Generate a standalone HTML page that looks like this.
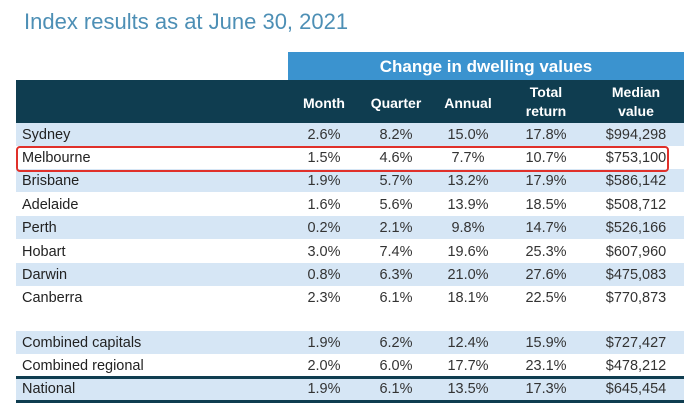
<!DOCTYPE html>
<html><head><meta charset="utf-8"><style>
body{margin:0;width:695px;height:415px;background:#fff;position:relative;overflow:hidden;font-family:"Liberation Sans",sans-serif;}
.t{position:absolute;left:24px;top:9px;font-size:22px;color:#4d8fb5;white-space:nowrap;}
.band{position:absolute;left:288px;top:52px;width:396px;height:28px;background:#3b93cf;color:#fff;font-weight:bold;font-size:17px;text-align:center;line-height:30px;}
.hd{position:absolute;left:16px;top:80px;width:668px;height:43px;background:#0f3d50;}
.r{position:absolute;left:16px;width:668px;height:23px;font-size:14.5px;color:#333;line-height:24px;}
.l{background:#d6e6f5;}
.c{position:absolute;text-align:center;width:90px;}
.n{position:absolute;left:6px;color:#222;}
.h{position:absolute;color:#fff;font-weight:bold;font-size:14px;text-align:center;width:90px;line-height:19px;}
.box{position:absolute;left:16px;top:146px;width:649px;height:22px;border:2px solid #e0302a;border-radius:4px;}
.bar{position:absolute;left:16px;width:668px;height:3px;background:#0f3d50;}
</style></head><body>
<div class="t">Index results as at June 30, 2021</div>
<div class="band">Change in dwelling values</div>
<div class="hd">
<div class="h" style="left:263px;top:14px">Month</div>
<div class="h" style="left:335px;top:14px">Quarter</div>
<div class="h" style="left:407px;top:14px">Annual</div>
<div class="h" style="left:485px;top:3px">Total<br>return</div>
<div class="h" style="left:575px;top:3px">Median<br>value</div>
</div>
<div class="r l" style="top:123px"><span class="n">Sydney</span><span class="c" style="left:263px">2.6%</span><span class="c" style="left:335px">8.2%</span><span class="c" style="left:407px">15.0%</span><span class="c" style="left:485px">17.8%</span><span class="c" style="left:575px">$994,298</span></div>
<div class="r" style="top:146px"><span class="n">Melbourne</span><span class="c" style="left:263px">1.5%</span><span class="c" style="left:335px">4.6%</span><span class="c" style="left:407px">7.7%</span><span class="c" style="left:485px">10.7%</span><span class="c" style="left:575px">$753,100</span></div>
<div class="r l" style="top:169px"><span class="n">Brisbane</span><span class="c" style="left:263px">1.9%</span><span class="c" style="left:335px">5.7%</span><span class="c" style="left:407px">13.2%</span><span class="c" style="left:485px">17.9%</span><span class="c" style="left:575px">$586,142</span></div>
<div class="r" style="top:193px"><span class="n">Adelaide</span><span class="c" style="left:263px">1.6%</span><span class="c" style="left:335px">5.6%</span><span class="c" style="left:407px">13.9%</span><span class="c" style="left:485px">18.5%</span><span class="c" style="left:575px">$508,712</span></div>
<div class="r l" style="top:216px"><span class="n">Perth</span><span class="c" style="left:263px">0.2%</span><span class="c" style="left:335px">2.1%</span><span class="c" style="left:407px">9.8%</span><span class="c" style="left:485px">14.7%</span><span class="c" style="left:575px">$526,166</span></div>
<div class="r" style="top:240px"><span class="n">Hobart</span><span class="c" style="left:263px">3.0%</span><span class="c" style="left:335px">7.4%</span><span class="c" style="left:407px">19.6%</span><span class="c" style="left:485px">25.3%</span><span class="c" style="left:575px">$607,960</span></div>
<div class="r l" style="top:263px"><span class="n">Darwin</span><span class="c" style="left:263px">0.8%</span><span class="c" style="left:335px">6.3%</span><span class="c" style="left:407px">21.0%</span><span class="c" style="left:485px">27.6%</span><span class="c" style="left:575px">$475,083</span></div>
<div class="r" style="top:286px"><span class="n">Canberra</span><span class="c" style="left:263px">2.3%</span><span class="c" style="left:335px">6.1%</span><span class="c" style="left:407px">18.1%</span><span class="c" style="left:485px">22.5%</span><span class="c" style="left:575px">$770,873</span></div>
<div class="r l" style="top:331px"><span class="n">Combined capitals</span><span class="c" style="left:263px">1.9%</span><span class="c" style="left:335px">6.2%</span><span class="c" style="left:407px">12.4%</span><span class="c" style="left:485px">15.9%</span><span class="c" style="left:575px">$727,427</span></div>
<div class="r" style="top:354px"><span class="n">Combined regional</span><span class="c" style="left:263px">2.0%</span><span class="c" style="left:335px">6.0%</span><span class="c" style="left:407px">17.7%</span><span class="c" style="left:485px">23.1%</span><span class="c" style="left:575px">$478,212</span></div>
<div class="r l" style="top:378px;height:22px;line-height:23px"><span class="n">National</span><span class="c" style="left:263px">1.9%</span><span class="c" style="left:335px">6.1%</span><span class="c" style="left:407px">13.5%</span><span class="c" style="left:485px">17.3%</span><span class="c" style="left:575px">$645,454</span></div>
<div class="bar" style="top:376px"></div>
<div class="bar" style="top:400px"></div>
<div class="box"></div>
</body></html>
